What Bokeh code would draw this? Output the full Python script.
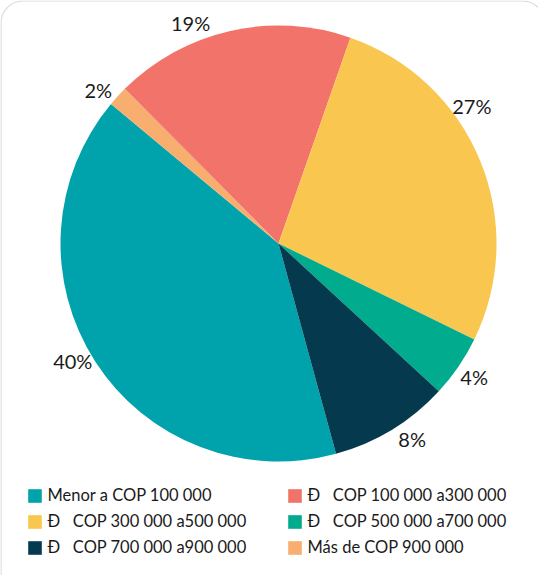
import math
from bokeh.plotting import figure
from bokeh.models import Range1d, Legend, LegendItem, BoxAnnotation
from bokeh.core.properties import value
from bokeh.embed import file_html
from bokeh.resources import INLINE

# data, in clockwise drawing order (slice shares)
categories = ["Menor a COP 100 000", "Más de COP 900 000", "Ð   COP 100 000 a300 000",
              "Ð   COP 300 000 a500 000", "Ð   COP 500 000 a700 000", "Ð   COP 700 000 a900 000"]
shares = [40.3, 1.5, 17.8, 26.9, 4.6, 8.9]
labels = ["40%", "2%", "19%", "27%", "4%", "8%"]
colors = ["#00A3AC", "#F8AE6E", "#F2736A", "#F9C74F", "#00AB8E", "#053A4E"]
legend_col1 = ["Menor a COP 100 000", "Ð   COP 300 000 a500 000", "Ð   COP 700 000 a900 000"]
legend_col2 = ["Ð   COP 100 000 a300 000", "Ð   COP 500 000 a700 000", "Más de COP 900 000"]

# layout constants
W, H = 538, 575
CX, CY, R = 278, 332, 218
START = 164.7            # clockwise degrees from 12 o'clock where first slice starts
LABEL_R = 237
label_nudge = [3, -2, -9, -13, 0, -3]
FONT = "Lato"

p = figure(width=W, height=H, output_backend="svg", toolbar_location=None,
           x_range=Range1d(0, W), y_range=Range1d(0, H),
           x_axis_type=None, y_axis_type=None, min_border=0)
p.outline_line_color = None
p.grid.visible = False

p.add_layout(BoxAnnotation(left=0.5, right=W + 6, top=H - 0.5, bottom=-30,
                           fill_alpha=0, line_color="#808080", line_width=1.2,
                           border_radius=22))

total = sum(shares)
renderers = {}
lx, ly = [], []
cum = START
for cat, s, c, nud in zip(categories, shares, colors, label_nudge):
    a0 = cum
    a1 = cum + s / total * 360.0
    cum = a1
    r = p.wedge(x=CX, y=CY, radius=R,
                start_angle=math.radians(90 - a0), end_angle=math.radians(90 - a1),
                direction="clock", fill_color=c, line_color=None)
    renderers[cat] = r
    mid = (a0 + a1) / 2 + nud
    lx.append(CX + LABEL_R * math.sin(math.radians(mid)))
    ly.append(CY + LABEL_R * math.cos(math.radians(mid)))

p.text(x=lx, y=ly, text=labels, text_font=value(FONT), text_font_size="20px",
       text_color="#1a1a1a", text_align="center", text_baseline="middle")

def make_legend(names, x):
    lg = Legend(items=[LegendItem(label=n, renderers=[renderers[n]]) for n in names],
                location=(x, 18), orientation="vertical",
                glyph_width=17, glyph_height=17, label_height=20, spacing=6,
                label_standoff=5, padding=0, margin=0,
                label_text_font=FONT, label_text_font_size="16.5px",
                label_text_color="#1a1a1a",
                border_line_color=None, background_fill_alpha=0)
    p.add_layout(lg, "center")

make_legend(legend_col1, 25.5)
make_legend(legend_col2, 285.5)

open("out.html", "w").write(file_html(p, INLINE))
